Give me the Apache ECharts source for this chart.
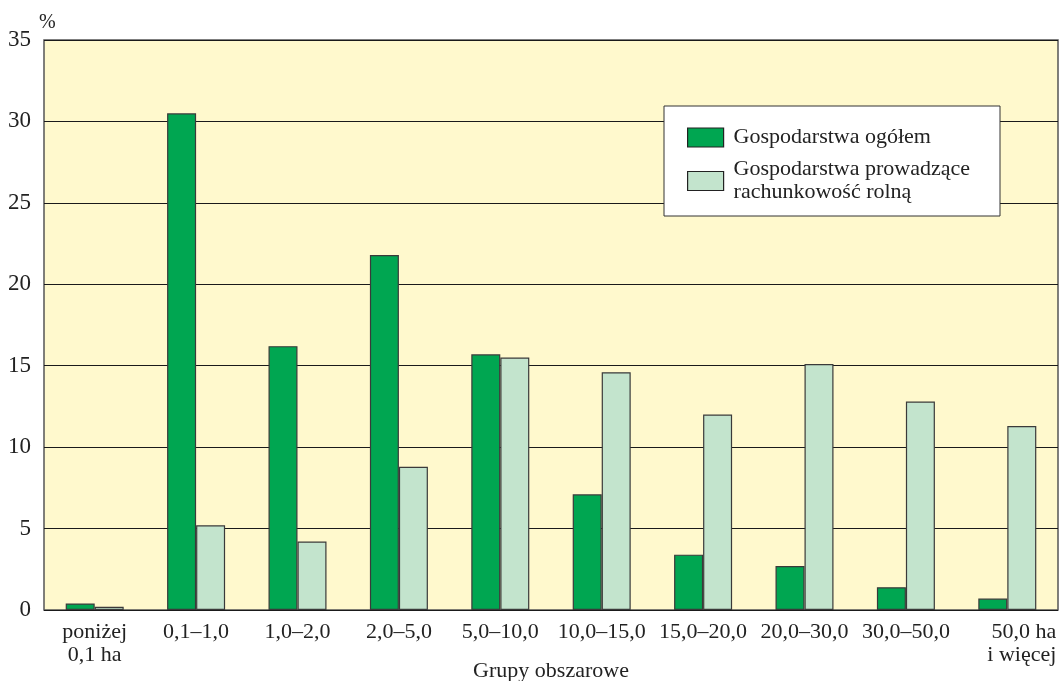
<!DOCTYPE html>
<html>
<head>
<meta charset="utf-8">
<script src="https://cdn.jsdelivr.net/npm/echarts@6/dist/echarts.min.js"></script>
<style>
  html, body { margin: 0; padding: 0; background: #ffffff; }
  #myChart { width: 1061px; height: 681px; }
</style>
</head>
<body>
<div id="myChart"></div>
<script>
// grupy obszarowe (oś X)
var categories = ['poniżej\n0,1 ha', '0,1–1,0', '1,0–2,0', '2,0–5,0', '5,0–10,0',
  '10,0–15,0', '15,0–20,0', '20,0–30,0', '30,0–50,0', '50,0 ha\ni więcej'];
// udział w %
var ogolem = [0.4, 30.5, 16.2, 21.8, 15.7, 7.1, 3.4, 2.7, 1.4, 0.7];
var rachunkowosc = [0.2, 5.2, 4.2, 8.8, 15.5, 14.6, 12.0, 15.1, 12.8, 11.3];
var yTicks = [0, 5, 10, 15, 20, 25, 30, 35];

var font = 'Liberation Serif';
var myChart = echarts.init(document.getElementById('myChart'));

var options = {
  animation: false,
  textStyle: { fontFamily: font },
  grid: {
    left: 44, right: 3, top: 40, bottom: 71,
    outerBoundsMode: 'none',
    show: true,
    backgroundColor: '#fff9cd',
    borderColor: '#555555',
    borderWidth: 1.5
  },
  legend: {
    orient: 'vertical',
    left: 664, top: 106,
    padding: [20, 30, 12, 23],
    itemGap: 9,
    itemWidth: 36, itemHeight: 19,
    icon: 'rect',
    backgroundColor: '#ffffff',
    borderColor: '#333333',
    borderWidth: 1,
    itemStyle: { borderColor: '#222222', borderWidth: 1.2 },
    textStyle: { fontFamily: font, fontSize: 22, color: '#222222', lineHeight: 23, padding: [0, 0, 0, 5] },
    data: ['Gospodarstwa ogółem', 'Gospodarstwa prowadzące\nrachunkowość rolną']
  },
  xAxis: {
    type: 'category',
    data: categories,
    name: 'Grupy obszarowe',
    nameLocation: 'middle',
    nameGap: 50,
    nameMoveOverlap: false,
    nameTextStyle: { fontFamily: font, fontSize: 22, color: '#222222' },
    axisLine: { show: false },
    axisTick: { show: false },
    axisLabel: {
      fontFamily: font, fontSize: 22, color: '#222222', lineHeight: 23, margin: 11, interval: 0,
      // ostatnia etykieta wyrównana do prawej krawędzi wykresu
      formatter: function (value, idx) {
        if (idx === categories.length - 1) {
          return value.split('\n').map(function (s) { return '{r|' + s + '}'; }).join('\n');
        }
        return value;
      },
      rich: {
        r: { width: 98, align: 'right', fontFamily: font, fontSize: 22, color: '#222222', lineHeight: 23 }
      }
    }
  },
  yAxis: {
    type: 'value',
    min: yTicks[0],
    max: yTicks[yTicks.length - 1],
    interval: 5,
    name: '%',
    nameGap: 7,
    nameMoveOverlap: false,
    nameTextStyle: { fontFamily: font, fontSize: 20, color: '#222222', align: 'left', padding: [0, 0, 0, -5] },
    axisLine: { show: false },
    axisTick: { show: false },
    axisLabel: { fontFamily: font, fontSize: 23, color: '#222222', margin: 13 },
    splitLine: { lineStyle: { color: '#1a1a1a', width: 1.2 } }
  },
  series: [
    {
      name: 'Gospodarstwa ogółem',
      type: 'bar',
      data: ogolem,
      barWidth: 29,
      barGap: '0%',
      itemStyle: { color: '#00a651', borderColor: '#3a3a3a', borderWidth: 1.2 }
    },
    {
      name: 'Gospodarstwa prowadzące\nrachunkowość rolną',
      type: 'bar',
      data: rachunkowosc,
      barWidth: 29,
      barGap: '0%',
      itemStyle: { color: '#c3e4cd', borderColor: '#3a3a3a', borderWidth: 1.2 }
    }
  ]
};

myChart.setOption(options);
</script>
</body>
</html>
